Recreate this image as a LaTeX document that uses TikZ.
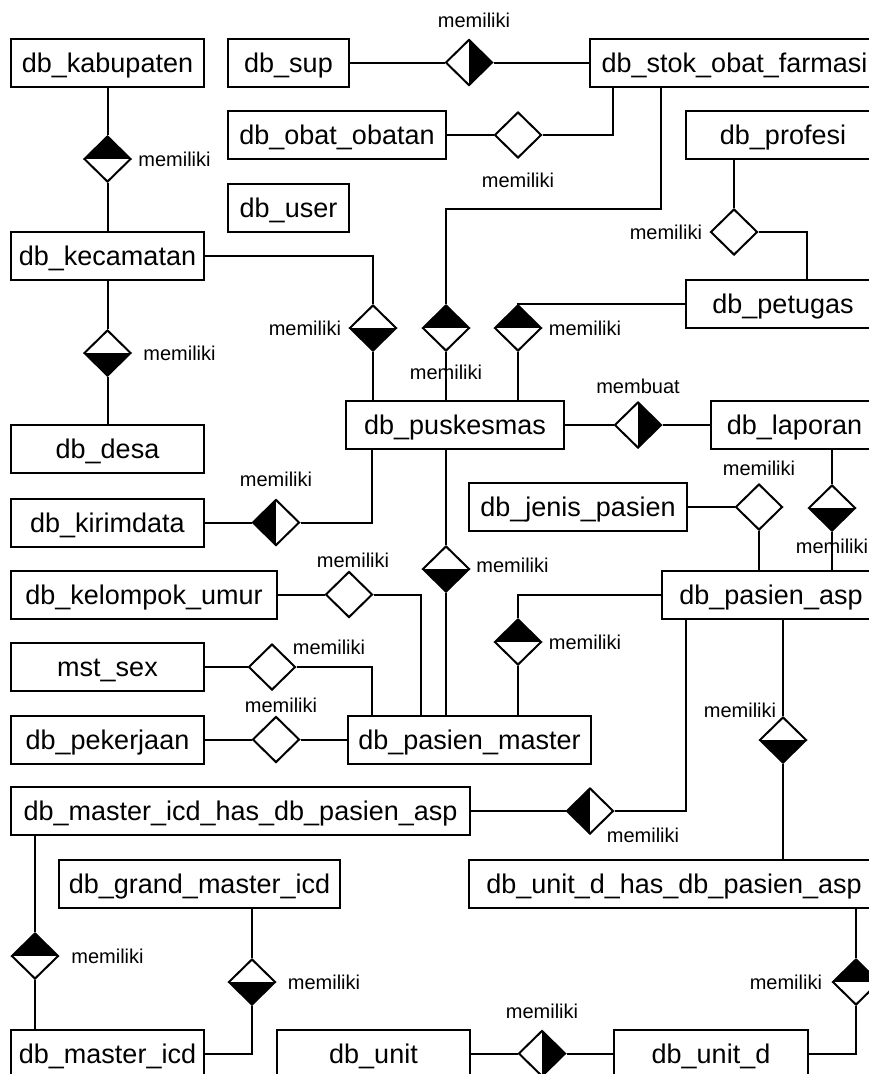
\documentclass[tikz,border=0pt]{standalone}
\usepackage{fontspec}
\setmainfont{Liberation Sans}
\usetikzlibrary{shapes.geometric,calc}

\begin{document}
\begin{tikzpicture}[x=1pt,y=-1pt,line width=2pt,
  entity/.style={draw,rectangle,inner sep=0pt,minimum height=48pt,
    font=\fontsize{27}{32}\selectfont,text height=19.3pt,text depth=0pt},
  rel/.style={draw,diamond,inner sep=0pt,minimum width=47pt,minimum height=46pt},
  relT/.style={rel,path picture={\fill (path picture bounding box.north west) rectangle (path picture bounding box.east);}},
  relB/.style={rel,path picture={\fill (path picture bounding box.west) rectangle (path picture bounding box.south east);}},
  relL/.style={rel,path picture={\fill (path picture bounding box.north west) rectangle (path picture bounding box.south);}},
  relR/.style={rel,path picture={\fill (path picture bounding box.north) rectangle (path picture bounding box.south east);}},
  lbl/.style={inner sep=0pt,font=\fontsize{20}{24}\selectfont,text height=14.3pt,text depth=0pt}]

\useasboundingbox (0,0) rectangle (869,1074);
\fill[white] (0,0) rectangle (869,1074);
\clip (0,0) rectangle (869,1074);

% entities
\node[entity,minimum width=193pt] (kab)     at (107.5,62.5)  {db\_kabupaten};
\node[entity,minimum width=121pt] (sup)     at (288.5,62.5)  {db\_sup};
\node[entity,minimum width=289pt] (stok)    at (734.5,62.5)  {db\_stok\_obat\_farmasi};
\node[entity,minimum width=218pt] (obat)    at (337,135)     {db\_obat\_obatan};
\node[entity,minimum width=121pt] (user)    at (288.5,207.5) {db\_user};
\node[entity,minimum width=194pt] (profesi) at (783,135)     {db\_profesi};
\node[entity,minimum width=193pt] (kec)     at (107.5,256)   {db\_kecamatan};
\node[entity,minimum width=194pt] (petugas) at (783,303.5)   {db\_petugas};
\node[entity,minimum width=193pt] (desa)    at (107.5,449)   {db\_desa};
\node[entity,minimum width=218pt] (pusk)    at (455,425)     {db\_puskesmas};
\node[entity,minimum width=167pt] (laporan) at (794.5,425)   {db\_laporan};
\node[entity,minimum width=193pt] (kirim)   at (107.5,522.5) {db\_kirimdata};
\node[entity,minimum width=218pt] (jenis)   at (578,507)     {db\_jenis\_pasien};
\node[entity,minimum width=266pt] (kel)     at (144,594.5)   {db\_kelompok\_umur};
\node[entity,minimum width=218pt] (asp)     at (771,595)     {db\_pasien\_asp};
\node[entity,minimum width=193pt] (sex)     at (107.5,667)   {mst\_sex};
\node[entity,minimum width=193pt] (pek)     at (107.5,739.5) {db\_pekerjaan};
\node[entity,minimum width=243pt] (pmaster) at (469.5,739.5) {db\_pasien\_master};
\node[entity,minimum width=459pt] (icdhas)  at (240.5,811)   {db\_master\_icd\_has\_db\_pasien\_asp};
\node[entity,minimum width=281pt] (grand)   at (199.5,884)   {db\_grand\_master\_icd};
\node[entity,minimum width=410pt] (udhas)   at (674,884)     {db\_unit\_d\_has\_db\_pasien\_asp};
\node[entity,minimum width=193pt] (micd)    at (107.5,1053.5) {db\_master\_icd};
\node[entity,minimum width=193pt] (unit)    at (373.5,1053.5) {db\_unit};
\node[entity,minimum width=194pt] (unitd)   at (711,1053.5)  {db\_unit\_d};

% relationships
\node[relT] (r1)  at (107.5,159)  {};
\node[relB] (r2)  at (107.5,353)  {};
\node[relR] (r3)  at (469,62.5)   {};
\node[rel]  (r4)  at (518,135)    {};
\node[rel]  (r5)  at (734,232)    {};
\node[relB] (r6)  at (373,328)    {};
\node[relT] (r7)  at (446,328)    {};
\node[relT] (r8)  at (518,328)    {};
\node[relR] (r9)  at (638,425)    {};
\node[relL] (r10) at (276,522.5)  {};
\node[rel]  (r11) at (759,507)    {};
\node[relB] (r12) at (832,508)    {};
\node[relB] (r13) at (446,569)    {};
\node[rel]  (r14) at (349,594.5)  {};
\node[relT] (r15) at (518,642)    {};
\node[rel]  (r16) at (272,667)    {};
\node[rel]  (r17) at (276,739.5)  {};
\node[relB] (r18) at (783,740)    {};
\node[relL] (r19) at (590,811)    {};
\node[relT] (r20) at (35,956)     {};
\node[relB] (r21) at (252,982)    {};
\node[relT] (r22) at (856,982)    {};
\node[relR] (r23) at (542,1053.5) {};

% relationship names
\node[lbl] (l1)  at (174.5,159) {memiliki};
\node[lbl] (l2)  at (179.5,353) {memiliki};
\node[lbl] (l3)  at (474,20)    {memiliki};
\node[lbl] (l4)  at (518,180)   {memiliki};
\node[lbl,anchor=east] (l5) at (703,232) {memiliki};
\node[lbl,anchor=east] (l6) at (342,328) {memiliki};
\node[lbl] (l7)  at (446,372)   {memiliki};
\node[lbl] (l8)  at (585,328)   {memiliki};
\node[lbl] (l9)  at (638,386)   {membuat};
\node[lbl] (l10) at (276,479)   {memiliki};
\node[lbl] (l11) at (759,468)   {memiliki};
\node[lbl] (l12) at (832,546)   {memiliki};
\node[lbl] (l13) at (512.5,565) {memiliki};
\node[lbl] (l14) at (353,560)   {memiliki};
\node[lbl] (l15) at (585,642)   {memiliki};
\node[lbl] (l16) at (329,647)   {memiliki};
\node[lbl] (l17) at (281,705)   {memiliki};
\node[lbl] (l18) at (740,710)   {memiliki};
\node[lbl] (l19) at (643,835)   {memiliki};
\node[lbl] (l20) at (107.5,956) {memiliki};
\node[lbl] (l21) at (324,982)   {memiliki};
\node[lbl,anchor=east] (l22) at (823,982) {memiliki};
\node[lbl] (l23) at (542,1011)  {memiliki};

% connection points on entity edges
\coordinate (stokA) at ($(stok.south west)+(24,0)$);
\coordinate (stokB) at ($(stok.south west)+(72,0)$);
\coordinate (petA)  at ($(petugas.north west)+(122,0)$);
\coordinate (puskA) at ($(pusk.south west)+(27,0)$);
\coordinate (pmA)   at ($(pmaster.north west)+(74,0)$);
\coordinate (pmB)   at ($(pmaster.north west)+(25,0)$);
\coordinate (aspA)  at ($(asp.south west)+(25,0)$);

% connectors
\draw (kab) -- (r1) -- (kec);
\draw (kec) -- (r2) -- (desa);
\draw (sup) -- (r3) -- (stok);
\draw (obat) -- (r4);
\draw (r4) -| (stokA);
\draw (stokB) -- ++(0,121) -| (r7);
\draw (r7) -- (r7 |- pusk.north);
\draw (r5 |- profesi.south) -- (r5);
\draw (r5) -| (petA);
\draw (kec) -| (r6);
\draw (r6) -- (r6 |- pusk.north);
\draw (petugas) -| (r8);
\draw (r8) -- (r8 |- pusk.north);
\draw (pusk) -- (r9) -- (laporan);
\draw (kirim) -- (r10);
\draw (r10) -| (puskA);
\draw (jenis) -- (r11);
\draw (r11) -- (r11 |- asp.north);
\draw (r12 |- laporan.south) -- (r12) -- (r12 |- asp.north);
\draw (r13 |- pusk.south) -- (r13) -- (r13 |- pmaster.north);
\draw (kel) -- (r14);
\draw (r14) -| (pmA);
\draw (asp) -| (r15);
\draw (r15) -- (r15 |- pmaster.north);
\draw (sex) -- (r16);
\draw (r16) -| (pmB);
\draw (pek) -- (r17) -- (pmaster);
\draw (r18 |- asp.south) -- (r18) -- (r18 |- udhas.north);
\draw (aspA) |- (r19);
\draw (r19) -- (icdhas);
\draw (r20 |- icdhas.south) -- (r20) -- (r20 |- micd.north);
\draw (r21 |- grand.south) -- (r21);
\draw (r21) |- (micd);
\draw (r22 |- udhas.south) -- (r22);
\draw (r22) |- (unitd);
\draw (unit) -- (r23) -- (unitd);
\end{tikzpicture}
\end{document}
